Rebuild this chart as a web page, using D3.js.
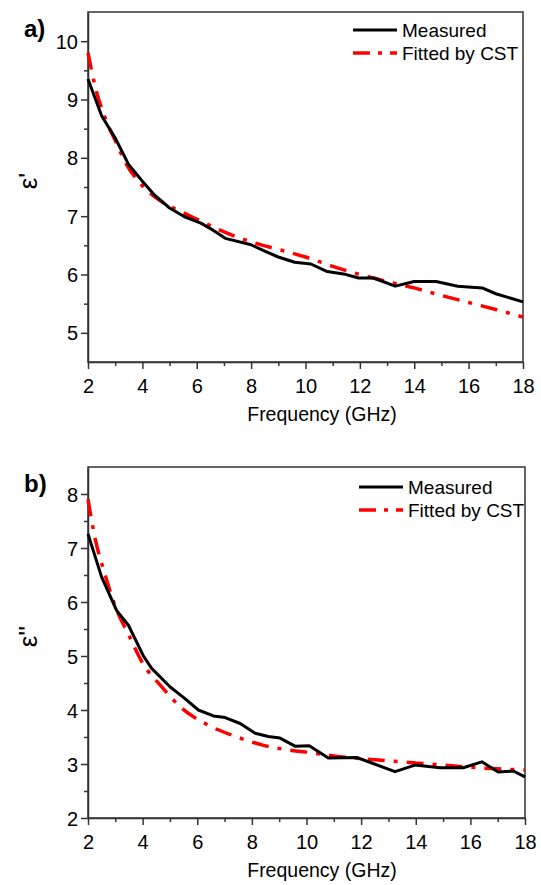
<!DOCTYPE html>
<html>
<head>
<meta charset="utf-8">
<script src="https://cdn.jsdelivr.net/npm/d3@7"></script>
<style>
  body { margin: 0; background: #fff; }
  svg text { font-family: Arial, "Liberation Sans", sans-serif; fill: #000; }
</style>
</head>
<body>
<div id="chart"></div>
<script>
// measured / fitted permittivity
const freqMeasReal = [2.0, 2.5, 3.0, 3.5, 4.0, 4.45, 5.0, 5.55, 6.15, 6.6, 7.05, 8.0, 8.5, 9.0, 9.6, 10.2, 10.8, 11.4, 11.95, 12.5, 13.3, 14.0, 14.8, 15.6, 16.5, 17.0, 18.0];
const epsRealMeas = [9.35, 8.72, 8.34, 7.88, 7.6, 7.36, 7.14, 6.99, 6.88, 6.76, 6.62, 6.51, 6.4, 6.3, 6.21, 6.18, 6.05, 6.01, 5.94, 5.94, 5.8, 5.88, 5.88, 5.8, 5.77, 5.67, 5.53];

const freqFitReal = [2.0, 2.25, 2.7, 3.0, 3.4, 4.0, 4.7, 5.5, 6.0, 6.8, 8.0, 9.0, 10.0, 11.0, 12.0, 13.0, 14.0, 15.0, 16.0, 17.0, 18.0];
const epsRealFit = [9.8, 9.25, 8.6, 8.3, 7.9, 7.52, 7.25, 7.06, 6.95, 6.77, 6.56, 6.43, 6.3, 6.14, 6.0, 5.88, 5.77, 5.64, 5.52, 5.4, 5.27];

const freqMeasImag = [2.0, 2.5, 3.05, 3.48, 4.02, 4.33, 5.0, 5.55, 6.04, 6.59, 7.02, 7.57, 8.12, 8.6, 9.03, 9.58, 10.1, 10.8, 11.84, 13.24, 13.97, 14.89, 15.74, 16.42, 17.02, 17.57, 18.0];
const epsImagMeas = [7.26, 6.46, 5.84, 5.57, 5.01, 4.77, 4.43, 4.21, 4.0, 3.89, 3.86, 3.75, 3.57, 3.51, 3.48, 3.33, 3.34, 3.11, 3.12, 2.86, 2.98, 2.93, 2.93, 3.04, 2.85, 2.87, 2.76];

const freqFitImag = [2.0, 2.25, 2.6, 3.0, 3.5, 4.0, 4.7, 5.4, 6.4, 7.4, 8.4, 9.2, 10.0, 11.0, 12.0, 13.0, 14.0, 15.0, 16.0, 17.0, 18.0];
const epsImagFit = [7.9, 7.2, 6.55, 5.92, 5.38, 4.87, 4.43, 4.05, 3.72, 3.51, 3.35, 3.27, 3.22, 3.15, 3.1, 3.06, 3.02, 2.98, 2.94, 2.91, 2.89];

const xTicks = [2, 4, 6, 8, 10, 12, 14, 16, 18];
const legendLabels = ['Measured', 'Fitted by CST'];

const svg = d3.select('#chart')
  .append('svg')
  .attr('width', 541)
  .attr('height', 885);

const axisColor = '#333';
const fontFamily = 'Arial, "Liberation Sans", sans-serif';

function drawPanel(opts) {
  const { left, right, top, bottom, yDomain, yTicks, yMinor, tag, yLabel, meas, fit, legendX, legendY } = opts;

  const x = d3.scaleLinear().domain([2, 18]).range([left, right]);
  const y = d3.scaleLinear().domain(yDomain).range([bottom, top]);

  const g = svg.append('g');

  // top + right frame
  g.append('rect')
    .attr('x', left).attr('y', top)
    .attr('width', right - left).attr('height', bottom - top)
    .attr('fill', 'none')
    .attr('stroke', axisColor)
    .attr('stroke-width', 1.5);

  // minor ticks
  g.append('g')
    .attr('transform', `translate(0,${bottom})`)
    .call(d3.axisBottom(x).tickValues(d3.range(3, 18, 2)).tickSize(4).tickFormat(''))
    .call(a => a.select('.domain').remove())
    .call(a => a.selectAll('line').attr('stroke', axisColor).attr('stroke-width', 1.5));
  g.append('g')
    .attr('transform', `translate(${left},0)`)
    .call(d3.axisLeft(y).tickValues(yMinor).tickSize(4).tickFormat(''))
    .call(a => a.select('.domain').remove())
    .call(a => a.selectAll('line').attr('stroke', axisColor).attr('stroke-width', 1.5));

  // major ticks + labels
  const xAxis = g.append('g')
    .attr('transform', `translate(0,${bottom})`)
    .call(d3.axisBottom(x).tickValues(xTicks).tickFormat(d3.format('d'))
      .tickSize(7).tickSizeOuter(0).tickPadding(5));
  const yAxis = g.append('g')
    .attr('transform', `translate(${left},0)`)
    .call(d3.axisLeft(y).tickValues(yTicks).tickFormat(d3.format('d'))
      .tickSize(7).tickSizeOuter(0).tickPadding(3));

  [xAxis, yAxis].forEach(a => {
    a.select('.domain').attr('stroke', axisColor).attr('stroke-width', 1.5);
    a.selectAll('line').attr('stroke', axisColor).attr('stroke-width', 1.5);
    a.selectAll('text')
      .style('font-family', fontFamily)
      .style('font-size', '20px')
      .attr('fill', '#111');
  });
  xAxis.selectAll('text').attr('dy', '0.93em');
  yAxis.selectAll('text').attr('dy', '0.35em');

  // axis titles
  g.append('text')
    .attr('x', 322)
    .attr('y', bottom + 59)
    .attr('text-anchor', 'middle')
    .style('font-size', '19.5px')
    .text('Frequency (GHz)');

  g.append('text')
    .attr('transform', `translate(37,${(top + bottom) / 2 - 6}) rotate(-90)`)
    .attr('text-anchor', 'middle')
    .style('font-size', '26px')
    .text(yLabel);

  g.append('text')
    .attr('x', 24)
    .attr('y', top + 25)
    .style('font-size', '24px')
    .style('font-weight', 'bold')
    .text(tag);

  // curves
  const line = d3.line().x(d => x(d[0])).y(d => y(d[1]));
  const fitLine = d3.line().x(d => x(d[0])).y(d => y(d[1])).curve(d3.curveMonotoneX);

  g.append('path')
    .datum(d3.zip(fit[0], fit[1]))
    .attr('d', fitLine)
    .attr('fill', 'none')
    .attr('stroke', '#ff0000')
    .attr('stroke-width', 3.5)
    .attr('stroke-dasharray', '17,9,4,9');

  g.append('path')
    .datum(d3.zip(meas[0], meas[1]))
    .attr('d', line)
    .attr('fill', 'none')
    .attr('stroke', '#000')
    .attr('stroke-width', 3)
    .attr('stroke-linejoin', 'round');

  // legend
  const leg = g.append('g');
  leg.append('line')
    .attr('x1', legendX).attr('x2', legendX + 44)
    .attr('y1', legendY).attr('y2', legendY)
    .attr('stroke', '#000').attr('stroke-width', 3);
  leg.append('line')
    .attr('x1', legendX).attr('x2', legendX + 44)
    .attr('y1', legendY + 23).attr('y2', legendY + 23)
    .attr('stroke', '#ff0000').attr('stroke-width', 3.5)
    .attr('stroke-dasharray', '17,8,4,8');
  legendLabels.forEach((t, i) => {
    leg.append('text')
      .attr('x', legendX + 49)
      .attr('y', legendY + i * 23 + 7)
      .style('font-size', '19px')
      .text(t);
  });
}

drawPanel({
  left: 88, right: 523, top: 12, bottom: 362,
  yDomain: [4.5, 10.5],
  yTicks: [5, 6, 7, 8, 9, 10],
  yMinor: [5.5, 6.5, 7.5, 8.5, 9.5],
  tag: 'a)',
  yLabel: "\u03B5'",
  meas: [freqMeasReal, epsRealMeas],
  fit: [freqFitReal, epsRealFit],
  legendX: 353, legendY: 30
});

drawPanel({
  left: 88, right: 525, top: 467, bottom: 818,
  yDomain: [2, 8.5],
  yTicks: [2, 3, 4, 5, 6, 7, 8],
  yMinor: [2.5, 3.5, 4.5, 5.5, 6.5, 7.5],
  tag: 'b)',
  yLabel: "\u03B5''",
  meas: [freqMeasImag, epsImagMeas],
  fit: [freqFitImag, epsImagFit],
  legendX: 359, legendY: 487
});
</script>
</body>
</html>
